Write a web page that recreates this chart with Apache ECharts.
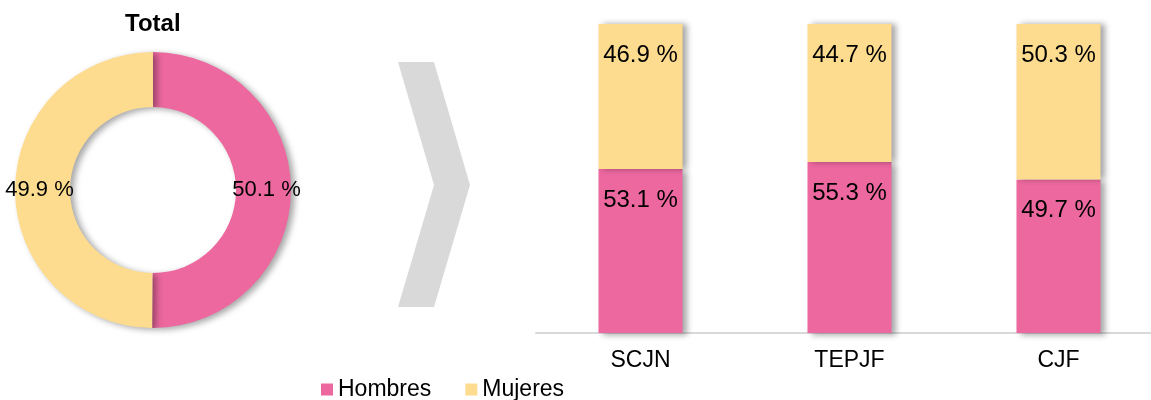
<!DOCTYPE html>
<html>
<head>
<meta charset="utf-8">
<script src="https://cdn.jsdelivr.net/npm/echarts@6/dist/echarts.min.js"></script>
<style>
  html, body { margin: 0; padding: 0; background: #fff; }
  #chart { width: 1151px; height: 400px; }
</style>
</head>
<body>
<div id="chart"></div>
<script>
const seriesNames = ["Hombres", "Mujeres"];
const colores = ["#EC689F", "#FDDC8F"];

// Total (dona)
const totalValores = [50.1, 49.9];

// Barras por institucion
const instituciones = ["SCJN", "TEPJF", "CJF"];
const hombres = [53.1, 55.3, 49.7];
const mujeres = [46.9, 44.7, 50.3];

const fuente = "'Liberation Sans', Arial, sans-serif";

const chart = echarts.init(document.getElementById("chart"));

const sombra = {
    shadowBlur: 6,
    shadowColor: "rgba(0,0,0,0.35)",
    shadowOffsetX: 4,
    shadowOffsetY: 2
};

const etiquetaBarra = {
    show: true,
    position: "insideTop",
    distance: 19,
    formatter: "{c} %",
    fontSize: 24,
    color: "#000",
    fontFamily: fuente
};

chart.setOption({
    animation: false,
    textStyle: { fontFamily: fuente },
    title: {
        text: "Total",
        left: 120,
        top: 7,
        textStyle: { fontSize: 24, fontWeight: "bold", color: "#000", fontFamily: fuente }
    },
    legend: {
        data: seriesNames,
        left: 316,
        top: 373,
        itemWidth: 12,
        itemHeight: 12,
        itemGap: 34,
        icon: "rect",
        textStyle: { fontSize: 23, color: "#000", fontFamily: fuente }
    },
    grid: {
        left: 536,
        width: 627,
        top: 24,
        bottom: 67,
        outerBoundsMode: "none",
        containLabel: false
    },
    xAxis: {
        type: "category",
        data: instituciones,
        axisTick: { show: false },
        axisLine: { lineStyle: { color: "#d9d9d9", width: 2 } },
        axisLabel: { fontSize: 23, color: "#000", margin: 16, fontFamily: fuente }
    },
    yAxis: {
        type: "value",
        min: 0,
        max: 100,
        show: false,
        splitLine: { show: false }
    },
    graphic: [{
        type: "polygon",
        shape: {
            points: [[398, 62], [434, 62], [470, 185], [434, 307], [398, 307], [434, 185]]
        },
        style: { fill: "#d9d9d9" },
        z: 0
    }],
    series: [
        {
            type: "pie",
            center: [153, 190],
            radius: [83, 138],
            startAngle: 90,
            clockwise: true,
            color: colores,
            itemStyle: sombra,
            label: {
                position: "inside",
                formatter: "{c} %",
                fontSize: 22,
                color: "#000",
                fontFamily: fuente
            },
            labelLine: { show: false },
            emphasis: { disabled: true },
            data: seriesNames.map((n, i) => ({ name: n, value: totalValores[i] }))
        },
        {
            name: seriesNames[0],
            type: "bar",
            stack: "total",
            barWidth: 84,
            data: hombres,
            itemStyle: Object.assign({ color: colores[0] }, sombra),
            label: etiquetaBarra
        },
        {
            name: seriesNames[1],
            type: "bar",
            stack: "total",
            barWidth: 84,
            data: mujeres,
            itemStyle: Object.assign({ color: colores[1] }, sombra, { shadowOffsetY: 0 }),
            label: etiquetaBarra
        }
    ]
});
</script>
</body>
</html>
